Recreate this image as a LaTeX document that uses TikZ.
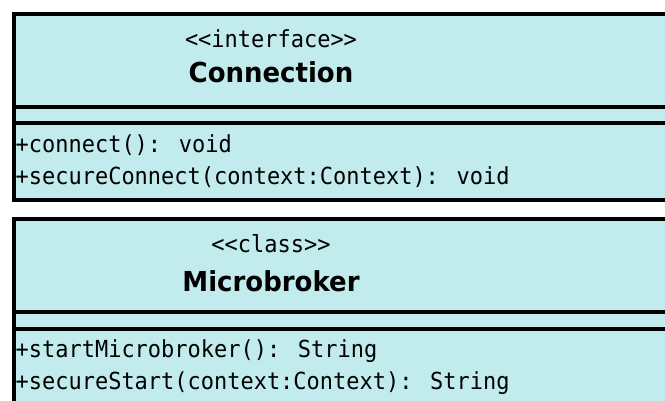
\documentclass[tikz,border=0pt]{standalone}
\usepackage{fontspec}
\newfontfamily\monof[FakeStretch=0.935]{DejaVu Sans Mono}
\newfontfamily\namef[FakeStretch=0.945]{DejaVu Sans}
\definecolor{umlfill}{RGB}{193,235,237}
\begin{document}
\begin{tikzpicture}[x=1pt,y=-1pt,
  umlbox/.style={draw=black,fill=umlfill,line width=4pt},
  sepline/.style={draw=black,line width=4pt},
  stereo/.style={inner sep=0pt,anchor=base,font=\monof\fontsize{23.5}{23.5}\selectfont},
  cname/.style={inner sep=0pt,anchor=base,font=\namef\bfseries\fontsize{27.5}{27.5}\selectfont},
  member/.style={inner sep=0pt,anchor=base west,font=\monof\fontsize{23.5}{23.5}\selectfont}]
\useasboundingbox (0,0) rectangle (665,401);
\fill[white] (0,0) rectangle (665,401);
\clip (0,0) rectangle (665,401);
% Connection
\path[umlbox] (13.5,14) rectangle (700,200);
\draw[sepline] (13.5,107) -- (700,107);
\draw[sepline] (13.5,123) -- (700,123);
\node[stereo] (cst) at (271,48) {<<interface>>};
\node[cname] (cnm) at (271,83) {Connection};
\node[member] (cm1) at (15.5,153) {+connect(): void};
\node[member] (cm2) at (15.5,185) {+secureConnect(context:Context): void};
% Microbroker
\path[umlbox] (13.5,219) rectangle (700,420);
\draw[sepline] (13.5,312) -- (700,312);
\draw[sepline] (13.5,329) -- (700,329);
\node[stereo] (mst) at (271,253) {<<class>>};
\node[cname] (mnm) at (271,291) {Microbroker};
\node[member] (mm1) at (15.5,357) {+startMicrobroker(): String};
\node[member] (mm2) at (15.5,389) {+secureStart(context:Context): String};
\end{tikzpicture}
\end{document}
